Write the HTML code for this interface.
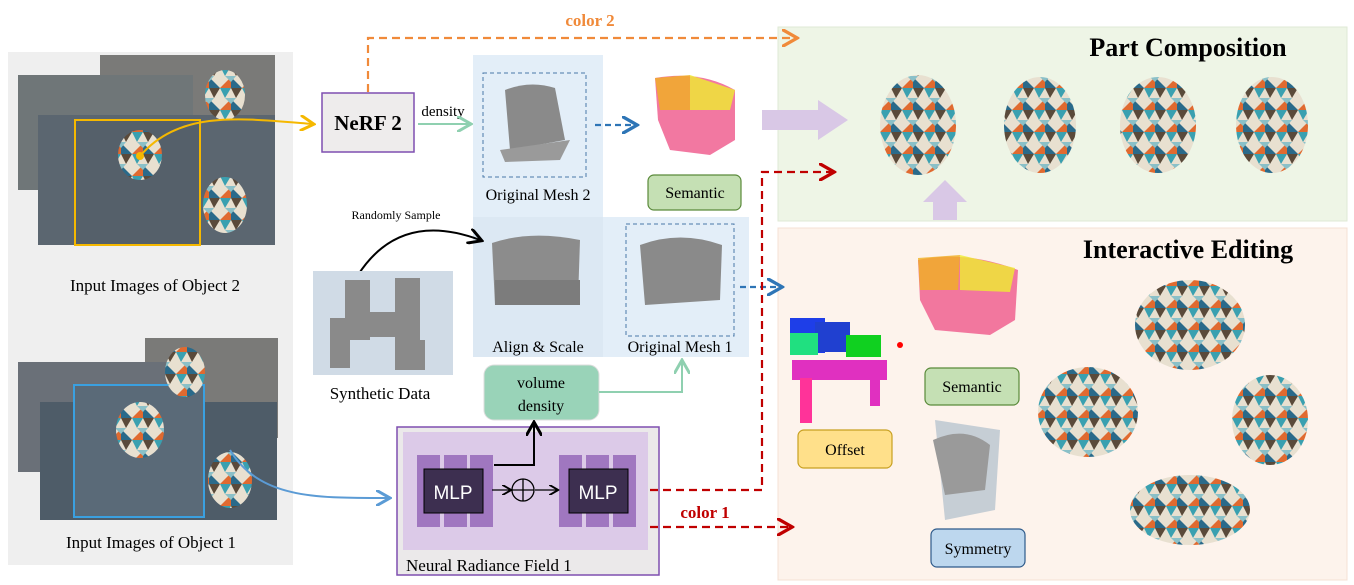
<!DOCTYPE html>
<html><head><meta charset="utf-8"><style>
body{margin:0;background:#fff;}
svg{display:block;font-family:"Liberation Serif",serif;}
</style></head><body>
<svg width="1354" height="585" viewBox="0 0 1354 585" xmlns="http://www.w3.org/2000/svg">
<defs>
<pattern id="tri" width="22" height="22" patternUnits="userSpaceOnUse">
<rect width="22" height="22" fill="#e8e0d0"/>
<polygon points="0,0 11,0 5,10" fill="#3aa0b0"/><polygon points="11,0 22,0 16,10" fill="#5a4a3a"/>
<polygon points="0,22 11,11 11,22" fill="#e06a30"/><polygon points="11,11 22,22 11,22" fill="#2a6a8a"/>
<polygon points="5,10 16,10 11,16" fill="#8ac0c8"/>
</pattern>
<marker id="aO" markerWidth="8" markerHeight="8" refX="6" refY="4" orient="auto"><path d="M0,0 L7,4 L0,8" fill="none" stroke="#f08a3a" stroke-width="1.5"/></marker>
<marker id="aR" markerWidth="8" markerHeight="8" refX="6" refY="4" orient="auto"><path d="M0,0 L7,4 L0,8" fill="none" stroke="#c00000" stroke-width="1.5"/></marker>
<marker id="aB" markerWidth="8" markerHeight="8" refX="6" refY="4" orient="auto"><path d="M0,0 L7,4 L0,8" fill="none" stroke="#2e75b6" stroke-width="1.5"/></marker>
<marker id="aG" markerWidth="8" markerHeight="8" refX="6" refY="4" orient="auto"><path d="M0,0 L7,4 L0,8" fill="none" stroke="#8fd0b0" stroke-width="1.5"/></marker>
<marker id="aK" markerWidth="8" markerHeight="8" refX="6" refY="4" orient="auto"><path d="M0,0 L7,4 L0,8" fill="none" stroke="#000" stroke-width="1.5"/></marker>
<marker id="aY" markerWidth="8" markerHeight="8" refX="6" refY="4" orient="auto"><path d="M0,0 L7,4 L0,8" fill="none" stroke="#f5b800" stroke-width="1.5"/></marker>
<marker id="aL" markerWidth="8" markerHeight="8" refX="6" refY="4" orient="auto"><path d="M0,0 L7,4 L0,8" fill="none" stroke="#5b9bd5" stroke-width="1.5"/></marker>
</defs>

<!-- background panels -->
<rect x="8" y="52" width="285" height="513" fill="#efefef"/>
<rect x="778" y="27" width="569" height="194" fill="#eef5e6" stroke="#dfe9d6"/>
<rect x="778" y="228" width="569" height="352" fill="#fdf3ec" stroke="#f5e0d4"/>
<rect x="473" y="55" width="130" height="162" fill="#e3eef8"/>
<rect x="473" y="217" width="276" height="140" fill="#dce8f3"/>
<rect x="603" y="217" width="146" height="140" fill="#e3eef8"/>

<g>
<rect x="100" y="55" width="175" height="105" fill="#7a7a78"/>
<rect x="18" y="75" width="175" height="115" fill="#6f7678"/>
<rect x="38" y="115" width="237" height="130" fill="#5b6670"/>
<rect x="75" y="120" width="125" height="125" fill="#55606a"/>
<rect x="75" y="120" width="125" height="125" fill="none" stroke="#f5b800" stroke-width="2"/>
<ellipse cx="140" cy="155" rx="22" ry="25" fill="url(#tri)"/>
<ellipse cx="225" cy="95" rx="20" ry="25" fill="url(#tri)"/>
<ellipse cx="225" cy="205" rx="22" ry="28" fill="url(#tri)"/>
<circle cx="140" cy="156" r="4" fill="#f5b800"/>
</g>
<text x="155" y="291" font-size="17" text-anchor="middle">Input Images of  Object 2</text>
<g>
<rect x="145" y="338" width="133" height="100" fill="#7a7a78"/>
<rect x="18" y="362" width="170" height="110" fill="#6a7078"/>
<rect x="40" y="402" width="237" height="118" fill="#4e5c68"/>
<rect x="74" y="385" width="130" height="132" fill="#5a6a78" stroke="#3aa0e0" stroke-width="2"/>
<ellipse cx="140" cy="430" rx="24" ry="28" fill="url(#tri)"/>
<ellipse cx="185" cy="372" rx="20" ry="25" fill="url(#tri)"/>
<ellipse cx="230" cy="480" rx="22" ry="28" fill="url(#tri)"/>
</g>
<text x="151" y="548" font-size="17" text-anchor="middle">Input Images of Object 1</text>

<path d="M368,92 V38 H795" fill="none" stroke="#f08a3a" stroke-width="2.2" stroke-dasharray="8,5" marker-end="url(#aO)"/>
<text x="590" y="26" font-size="17" font-weight="bold" fill="#f08a3a" text-anchor="middle">color 2</text>
<path d="M140,156 C180,110 240,118 312,124" fill="none" stroke="#f5b800" stroke-width="2" marker-end="url(#aY)"/>

<rect x="322" y="93" width="92" height="59" fill="#eeecec" stroke="#7f4fb0" stroke-width="1.5"/>
<text x="368" y="130" font-size="21" font-weight="bold" text-anchor="middle">NeRF 2</text>
<text x="443" y="116" font-size="15" text-anchor="middle">density</text>
<line x1="418" y1="124" x2="469" y2="124" stroke="#8fd0b0" stroke-width="2" marker-end="url(#aG)"/>

<rect x="483" y="73" width="103" height="104" fill="none" stroke="#4a78a8" stroke-dasharray="4,3"/>
<path d="M505,90 Q530,80 555,88 L565,140 L510,150 Z" fill="#8a8a8a"/>
<path d="M500,150 L570,140 L560,160 L505,162Z" fill="#9a9a9a"/>
<text x="538" y="200" font-size="16" text-anchor="middle">Original Mesh 2</text>
<line x1="595" y1="125" x2="635" y2="125" stroke="#2e75b6" stroke-width="2.2" stroke-dasharray="6,4" marker-end="url(#aB)"/>
<path d="M655,78 Q700,70 735,90 L735,140 L710,155 L670,150 L658,120 Z" fill="#f06090" opacity="0.85"/>
<path d="M655,78 L690,75 L690,110 L660,110Z" fill="#f0b020" opacity="0.8"/>
<path d="M690,75 L735,90 L730,110 L690,110Z" fill="#eeee30" opacity="0.8"/>
<rect x="648" y="175" width="93" height="35" rx="6" fill="#c5e0b4" stroke="#5a8a3a" stroke-width="1.2"/>
<text x="695" y="198" font-size="16" text-anchor="middle">Semantic</text>

<text x="396" y="219" font-size="12" text-anchor="middle">Randomly Sample</text>
<path d="M358,275 Q400,210 480,240" fill="none" stroke="#000" stroke-width="2" marker-end="url(#aK)"/>

<rect x="313" y="271" width="140" height="104" fill="#d0dbe6"/>
<g fill="#8a8a8a"><rect x="345" y="280" width="25" height="60"/><rect x="395" y="278" width="25" height="70"/><rect x="360" y="312" width="40" height="25"/><rect x="330" y="318" width="20" height="50"/><rect x="395" y="340" width="30" height="30"/></g>
<text x="380" y="399" font-size="17" text-anchor="middle">Synthetic Data</text>

<path d="M492,243 Q530,230 580,240 L578,300 L495,305Z" fill="#8c8c8c"/>
<rect x="495" y="280" width="85" height="25" fill="#7c7c7c"/>
<text x="538" y="352" font-size="16" text-anchor="middle">Align &amp; Scale</text>
<rect x="626" y="224" width="108" height="112" fill="none" stroke="#4a78a8" stroke-dasharray="4,3"/>
<path d="M640,245 Q680,230 722,245 L720,300 L645,305Z" fill="#8a8a8a"/>
<text x="680" y="352" font-size="16" text-anchor="middle">Original Mesh 1</text>
<line x1="740" y1="287" x2="780" y2="287" stroke="#2e75b6" stroke-width="2.2" stroke-dasharray="6,4" marker-end="url(#aB)"/>

<rect x="484" y="365" width="115" height="55" rx="10" fill="#99d3b8" stroke="#ddd"/>
<text x="541" y="388" font-size="16" text-anchor="middle">volume</text>
<text x="541" y="411" font-size="16" text-anchor="middle">density</text>
<path d="M599,392 H682 V362" fill="none" stroke="#8fd0b0" stroke-width="2" marker-end="url(#aG)"/>

<rect x="397" y="427" width="262" height="148" fill="#ebe9ea" stroke="#7f4fb0" stroke-width="1.5"/>
<rect x="403" y="432" width="245" height="118" fill="#dccae8"/>
<g fill="#a077c0"><rect x="417" y="455" width="23" height="72"/><rect x="444" y="455" width="23" height="72"/><rect x="470" y="455" width="23" height="72"/>
<rect x="559" y="455" width="23" height="72"/><rect x="586" y="455" width="23" height="72"/><rect x="613" y="455" width="23" height="72"/></g>
<rect x="424" y="469" width="59" height="44" fill="#3d2f50" stroke="#000"/>
<rect x="569" y="469" width="59" height="44" fill="#3d2f50" stroke="#000"/>
<text x="453" y="499" font-size="19" fill="#fff" text-anchor="middle" font-family="Liberation Sans,sans-serif">MLP</text>
<text x="598" y="499" font-size="19" fill="#fff" text-anchor="middle" font-family="Liberation Sans,sans-serif">MLP</text>
<circle cx="523" cy="490" r="11" fill="none" stroke="#000" stroke-width="1.3"/>
<path d="M512,490 H534 M523,479 V501" stroke="#000" stroke-width="1.3"/>
<line x1="492" y1="490" x2="510" y2="490" stroke="#000" stroke-width="1.3" marker-end="url(#aK)"/>
<line x1="535" y1="490" x2="557" y2="490" stroke="#000" stroke-width="1.3" marker-end="url(#aK)"/>
<path d="M494,465 H534 V424" fill="none" stroke="#000" stroke-width="2" marker-end="url(#aK)"/>
<text x="406" y="571" font-size="17">Neural Radiance Field 1</text>
<path d="M230,450 C260,500 320,498 388,498" fill="none" stroke="#5b9bd5" stroke-width="2" marker-end="url(#aL)"/>

<path d="M650,490 H762 V172 H832" fill="none" stroke="#c00000" stroke-width="2.2" stroke-dasharray="8,5" marker-end="url(#aR)"/>
<path d="M650,527 H790" fill="none" stroke="#c00000" stroke-width="2.2" stroke-dasharray="8,5" marker-end="url(#aR)"/>
<text x="705" y="518" font-size="17" font-weight="bold" fill="#c00000" text-anchor="middle">color 1</text>

<text x="1188" y="56" font-size="26" font-weight="bold" text-anchor="middle">Part Composition</text>
<rect x="762" y="110" width="58" height="20" fill="#d9c8e6"/>
<polygon points="818,100 848,120 818,140" fill="#d9c8e6"/>
<ellipse cx="918" cy="125" rx="38" ry="50" fill="url(#tri)"/>
<ellipse cx="1040" cy="125" rx="36" ry="48" fill="url(#tri)"/>
<ellipse cx="1158" cy="125" rx="38" ry="48" fill="url(#tri)"/>
<ellipse cx="1272" cy="125" rx="36" ry="48" fill="url(#tri)"/>

<text x="1188" y="258" font-size="26" font-weight="bold" text-anchor="middle">Interactive Editing</text>
<rect x="933" y="200" width="24" height="20" fill="#d9c8e6"/>
<polygon points="923,202 945,180 967,202" fill="#d9c8e6"/>
<path d="M918,260 Q965,250 1018,270 L1015,320 L990,335 L935,330 L920,300Z" fill="#f06090" opacity="0.85"/>
<path d="M918,258 L960,255 L958,290 L920,290Z" fill="#f0b020" opacity="0.8"/>
<path d="M960,255 L1015,268 L1010,292 L960,290Z" fill="#eeee30" opacity="0.8"/>
<rect x="925" y="368" width="94" height="37" rx="6" fill="#c5e0b4" stroke="#5a8a3a" stroke-width="1.2"/>
<text x="972" y="392" font-size="16" text-anchor="middle">Semantic</text>
<rect x="790" y="318" width="35" height="35" fill="#1e3ee8"/>
<rect x="815" y="322" width="35" height="30" fill="#2040d0"/>
<rect x="790" y="333" width="28" height="22" fill="#20e080"/>
<rect x="846" y="335" width="35" height="22" fill="#10d020"/>
<rect x="792" y="360" width="95" height="20" fill="#e030c0"/>
<rect x="800" y="378" width="12" height="45" fill="#ff3399"/><rect x="870" y="378" width="10" height="28" fill="#e030c0"/>
<circle cx="900" cy="345" r="3" fill="#f00"/>
<rect x="798" y="430" width="94" height="38" rx="6" fill="#ffe08a" stroke="#c8a020" stroke-width="1.2"/>
<text x="845" y="455" font-size="16" text-anchor="middle">Offset</text>
<polygon points="935,420 1000,430 995,510 945,520" fill="#b8c4d0" opacity="0.8"/>
<path d="M933,440 Q965,425 990,445 L985,490 L945,495Z" fill="#9a9a9a"/>
<rect x="931" y="529" width="94" height="38" rx="6" fill="#bdd7ee" stroke="#2e5a8a" stroke-width="1.2"/>
<text x="978" y="554" font-size="16" text-anchor="middle">Symmetry</text>
<ellipse cx="1190" cy="325" rx="55" ry="45" fill="url(#tri)"/>
<ellipse cx="1088" cy="412" rx="50" ry="45" fill="url(#tri)"/>
<ellipse cx="1270" cy="420" rx="38" ry="45" fill="url(#tri)"/>
<ellipse cx="1190" cy="510" rx="60" ry="35" fill="url(#tri)"/>
</svg>
</body></html>
